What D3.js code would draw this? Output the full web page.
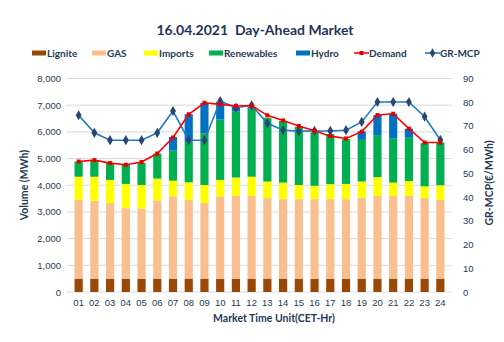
<!DOCTYPE html>
<html><head><meta charset="utf-8">
<script src="https://cdn.jsdelivr.net/npm/d3@7/dist/d3.min.js"></script>
<style>
html,body{margin:0;padding:0;background:#fff;}
svg{display:block;font-family:Lato, "Open Sans", sans-serif;}
</style></head>
<body><svg id="c" width="504" height="342"></svg>
<script>
const hours = ["01","02","03","04","05","06","07","08","09","10","11","12","13","14","15","16","17","18","19","20","21","22","23","24"];
const lignite = [500,500,500,500,500,500,500,500,500,500,500,500,500,500,500,500,500,500,500,500,500,500,500,500];
const gas = [2950,2920,2830,2640,2620,2930,3080,2950,2830,3080,3100,3100,3020,2980,2980,2980,2980,2980,3030,3100,3100,3100,3020,2950];
const imports = [870,900,870,910,890,820,590,660,680,620,690,720,620,620,530,500,560,570,610,700,500,560,440,550];
const renewables = [570,600,630,720,830,940,1130,1520,1940,2260,2470,2550,2390,2310,2180,2000,1880,1680,1560,1580,1650,1620,1620,1600];
const hydro = [0,0,0,0,0,0,510,1030,1140,670,170,60,0,0,0,0,0,0,320,750,930,340,0,0];
const demand = [4890,4940,4830,4770,4870,5190,5790,6660,7090,7030,6970,6990,6620,6430,6220,6040,5840,5750,6010,6630,6680,6120,5600,5600];
const mcp = [74.5,67.1,64.0,64.0,64.0,67.1,76.3,64.0,64.0,80.5,77.7,78.7,71.1,68.2,67.8,67.9,67.9,68.2,71.7,80.1,80.1,80.1,73.9,64.1];
const leftTicks = [0,1000,2000,3000,4000,5000,6000,7000,8000];
const rightTicks = [0,10,20,30,40,50,60,70,80,90];
const seriesNames = ["Lignite","GAS","Imports","Renewables","Hydro"];
const seriesColors = ["#984807","#F9BF8F","#FFFF00","#00B050","#0070C0"];

const svg = d3.select("#c");
const txt = "#1F3A56";
const L = 67, R = 452, T = 78.5, B = 292;

const x = d3.scaleBand().domain(hours).range([L, R]).padding(0.48);
const y = d3.scaleLinear().domain([0, 8000]).range([B, T]);
const y2 = d3.scaleLinear().domain([0, 90]).range([B, T]);

// grid
svg.append("g").selectAll("line").data(leftTicks).join("line")
  .attr("x1", L).attr("x2", R).attr("y1", d => y(d)).attr("y2", d => y(d))
  .attr("stroke", "#D9D9D9").attr("stroke-width", 1);

// left axis
const ga = svg.append("g").attr("transform", `translate(${L},0)`)
  .call(d3.axisLeft(y).tickValues(leftTicks).tickFormat(d3.format(",")).tickSize(0).tickPadding(6));
ga.select(".domain").remove();
ga.selectAll("text").attr("fill", txt).attr("font-size", 9.5);

// right axis
const gr = svg.append("g").attr("transform", `translate(${R},0)`)
  .call(d3.axisRight(y2).tickValues(rightTicks).tickSize(0).tickPadding(11));
gr.select(".domain").remove();
gr.selectAll("text").attr("fill", txt).attr("font-size", 9.5);

// bottom axis
const gb = svg.append("g").attr("transform", `translate(0,${B})`)
  .call(d3.axisBottom(x).tickSize(0).tickPadding(7));
gb.select(".domain").remove();
gb.selectAll("text").attr("fill", txt).attr("font-size", 9.5);

// stacked bars
const rows = hours.map((h, i) => ({h, Lignite: lignite[i], GAS: gas[i], Imports: imports[i], Renewables: renewables[i], Hydro: hydro[i]}));
const stacked = d3.stack().keys(seriesNames)(rows);
svg.append("g").selectAll("g").data(stacked).join("g")
  .attr("fill", (d, i) => seriesColors[i])
  .selectAll("rect").data(d => d).join("rect")
  .attr("x", d => x(d.data.h)).attr("width", x.bandwidth())
  .attr("y", d => y(d[1])).attr("height", d => Math.max(0, y(d[0]) - y(d[1])));

// MCP line
const cx = h => x(h) + x.bandwidth() / 2;
svg.append("path").datum(mcp)
  .attr("d", d3.line().x((d, i) => cx(hours[i])).y(d => y2(d)))
  .attr("fill", "none").attr("stroke", "#1F7BC4").attr("stroke-width", 1.6);
svg.append("g").selectAll("path").data(mcp).join("path")
  .attr("d", d3.symbol(d3.symbolDiamond, 30)())
  .attr("transform", (d, i) => `translate(${cx(hours[i])},${y2(d)})`)
  .attr("fill", "#2B4570");

// demand line
svg.append("path").datum(demand)
  .attr("d", d3.line().x((d, i) => cx(hours[i])).y(d => y(d)))
  .attr("fill", "none").attr("stroke", "#FF0000").attr("stroke-width", 1.6);
svg.append("g").selectAll("rect").data(demand).join("rect")
  .attr("x", (d, i) => cx(hours[i]) - 2).attr("y", d => y(d) - 2)
  .attr("width", 4).attr("height", 4).attr("fill", "#E00000");

// title
svg.append("text").attr("x", 255).attr("y", 35).attr("text-anchor", "middle")
  .attr("font-size", 14).attr("font-weight", "bold").attr("fill", "#1F3458")
  .attr("xml:space", "preserve").text("16.04.2021  Day-Ahead Market");

// axis titles
svg.append("text").attr("transform", "translate(28,185) rotate(-90)").attr("text-anchor", "middle")
  .attr("font-size", 10.5).attr("font-weight", "bold").attr("fill", txt).text("Volume (MWh)");
svg.append("text").attr("transform", "translate(493,183) rotate(-90)").attr("text-anchor", "middle")
  .attr("font-size", 10.5).attr("font-weight", "bold").attr("fill", txt).text("GR-MCP(€/MWh)");
svg.append("text").attr("x", 274).attr("y", 322).attr("text-anchor", "middle")
  .attr("font-size", 10.5).attr("font-weight", "bold").attr("fill", txt).text("Market Time Unit(CET-Hr)");

// legend
const legendItems = [
  {name: "Lignite", type: "rect", color: seriesColors[0], x: 32},
  {name: "GAS", type: "rect", color: seriesColors[1], x: 92},
  {name: "Imports", type: "rect", color: seriesColors[2], x: 144},
  {name: "Renewables", type: "rect", color: seriesColors[3], x: 209},
  {name: "Hydro", type: "rect", color: seriesColors[4], x: 296},
  {name: "Demand", type: "line", color: "#FF0000", mk: "#E00000", x: 354},
  {name: "GR-MCP", type: "line", color: "#1F7BC4", mk: "#2B4570", x: 425}
];
const ly = 53;
const lg = svg.append("g").selectAll("g").data(legendItems).join("g")
  .attr("transform", d => `translate(${d.x},${ly})`);
lg.filter(d => d.type === "rect").append("rect").attr("x", 0).attr("y", -2.5).attr("width", 14).attr("height", 5).attr("fill", d => d.color);
lg.filter(d => d.type === "line").append("line").attr("x1", 0).attr("x2", 15).attr("y1", 0).attr("y2", 0)
  .attr("stroke", d => d.color).attr("stroke-width", 1.6);
lg.filter(d => d.name === "Demand").append("rect").attr("x", 5.5).attr("y", -2).attr("width", 4).attr("height", 4).attr("fill", d => d.mk);
lg.filter(d => d.name === "GR-MCP").append("path").attr("d", d3.symbol(d3.symbolDiamond, 26)()).attr("transform", "translate(7.5,0)").attr("fill", d => d.mk);
lg.append("text").attr("x", 15).attr("y", 3.5).attr("font-size", 10).attr("font-weight", "bold")
  .attr("fill", txt).text(d => d.name);
</script></body></html>
